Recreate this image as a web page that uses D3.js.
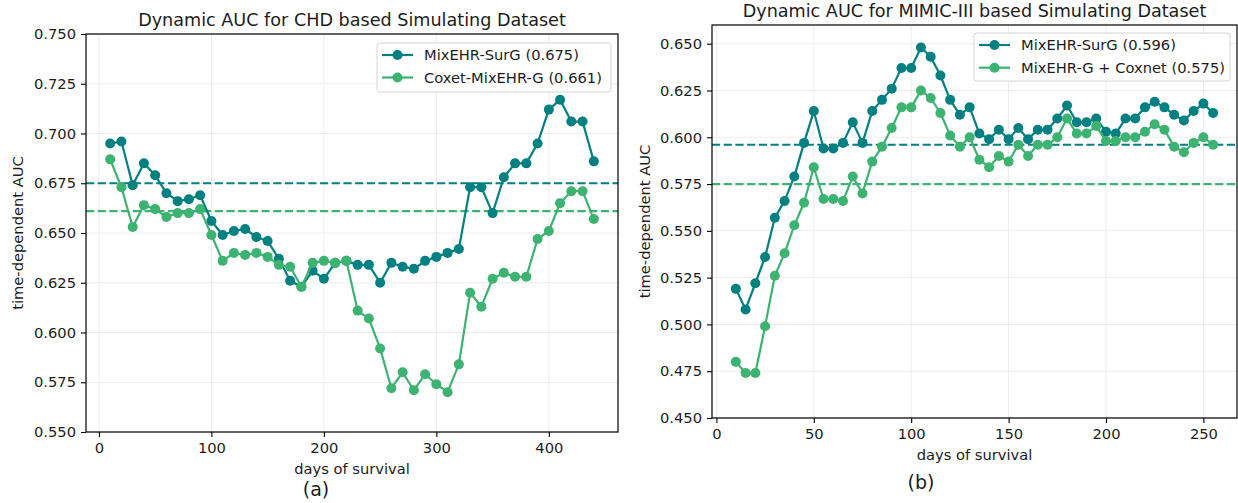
<!DOCTYPE html>
<html>
<head>
<meta charset="utf-8">
<script src="https://cdn.jsdelivr.net/npm/d3@7"></script>
<style>
  html, body { margin: 0; padding: 0; background: #fff; }
  svg { display: block; font-family: "DejaVu Sans", sans-serif; }
</style>
</head>
<body>
<svg id="fig" width="1238" height="503"></svg>
<script>
// ---- Panel (a): CHD based simulating dataset ----
const chdDays = [10, 20, 30, 40, 50, 60, 70, 80, 90, 100, 110, 120, 130, 140, 150, 160, 170, 180, 190, 200,
  210, 220, 230, 240, 250, 260, 270, 280, 290, 300, 310, 320, 330, 340, 350, 360, 370, 380, 390, 400,
  410, 420, 430, 440];
const chdSurG = [0.695, 0.696, 0.674, 0.685, 0.679, 0.670, 0.666, 0.667, 0.669, 0.656,
  0.649, 0.651, 0.652, 0.648, 0.646, 0.637, 0.626, 0.623, 0.631, 0.627,
  0.635, 0.636, 0.634, 0.634, 0.625, 0.635, 0.633, 0.632, 0.636, 0.638,
  0.640, 0.642, 0.673, 0.673, 0.660, 0.678, 0.685, 0.685, 0.695, 0.712,
  0.717, 0.706, 0.706, 0.686];
const chdCoxnet = [0.687, 0.673, 0.653, 0.664, 0.662, 0.658, 0.660, 0.660, 0.662, 0.649,
  0.636, 0.640, 0.639, 0.640, 0.638, 0.634, 0.633, 0.623, 0.635, 0.636,
  0.635, 0.636, 0.611, 0.607, 0.592, 0.572, 0.580, 0.571, 0.579, 0.574,
  0.570, 0.584, 0.620, 0.613, 0.627, 0.630, 0.628, 0.628, 0.647, 0.651,
  0.665, 0.671, 0.671, 0.657];
const chdMeans = [0.675, 0.661];
const chdNames = ["MixEHR-SurG", "Coxet-MixEHR-G"];
const chdXTicks = [0, 100, 200, 300, 400];
const chdYTicks = [0.550, 0.575, 0.600, 0.625, 0.650, 0.675, 0.700, 0.725, 0.750];

// ---- Panel (b): MIMIC-III based simulating dataset ----
const mimicDays = [10, 15, 20, 25, 30, 35, 40, 45, 50, 55, 60, 65, 70, 75, 80, 85, 90, 95, 100, 105,
  110, 115, 120, 125, 130, 135, 140, 145, 150, 155, 160, 165, 170, 175, 180, 185, 190, 195, 200, 205,
  210, 215, 220, 225, 230, 235, 240, 245, 250, 255];
const mimicSurG = [0.519, 0.508, 0.522, 0.536, 0.557, 0.566, 0.579, 0.597, 0.614, 0.594,
  0.594, 0.597, 0.608, 0.597, 0.614, 0.620, 0.626, 0.637, 0.637, 0.648,
  0.643, 0.633, 0.620, 0.612, 0.616, 0.602, 0.599, 0.604, 0.599, 0.605,
  0.599, 0.604, 0.604, 0.610, 0.617, 0.608, 0.608, 0.610, 0.603, 0.602,
  0.610, 0.610, 0.616, 0.619, 0.616, 0.612, 0.609, 0.614, 0.618, 0.613];
const mimicCoxnet = [0.480, 0.474, 0.474, 0.499, 0.526, 0.538, 0.553, 0.565, 0.584, 0.567,
  0.567, 0.566, 0.579, 0.570, 0.587, 0.595, 0.605, 0.616, 0.616, 0.625,
  0.621, 0.613, 0.601, 0.595, 0.600, 0.588, 0.584, 0.590, 0.587, 0.596,
  0.590, 0.596, 0.596, 0.600, 0.610, 0.602, 0.602, 0.606, 0.598, 0.598,
  0.600, 0.600, 0.603, 0.607, 0.604, 0.595, 0.592, 0.597, 0.600, 0.596];
const mimicMeans = [0.596, 0.575];
const mimicNames = ["MixEHR-SurG", "MixEHR-G + Coxnet"];
const mimicXTicks = [0, 50, 100, 150, 200, 250];
const mimicYTicks = [0.450, 0.475, 0.500, 0.525, 0.550, 0.575, 0.600, 0.625, 0.650];

const COLORS = ["#008080", "#3cb371"];
const TEXT = "#1c1c1c";
const FONT = 14.7;
const fmt = d3.format(".3f");

const svg = d3.select("#fig");

function drawPanel(p) {
  const x = d3.scaleLinear().domain(p.xDomain).range([p.left, p.right]);
  const y = d3.scaleLinear().domain(p.yDomain).range([p.bottom, p.top]);
  const g = svg.append("g");

  // grid
  g.append("g").selectAll("line").data(p.xTicks).join("line")
    .attr("x1", d => x(d)).attr("x2", d => x(d))
    .attr("y1", p.top).attr("y2", p.bottom)
    .attr("stroke", "#ececec").attr("stroke-width", 1);
  g.append("g").selectAll("line").data(p.yTicks).join("line")
    .attr("x1", p.left).attr("x2", p.right)
    .attr("y1", d => y(d)).attr("y2", d => y(d))
    .attr("stroke", "#ececec").attr("stroke-width", 1);

  // mean AUC reference lines
  p.means.forEach((m, i) => {
    g.append("line")
      .attr("x1", p.left).attr("x2", p.right)
      .attr("y1", y(m)).attr("y2", y(m))
      .attr("stroke", COLORS[i]).attr("stroke-width", 2.2)
      .attr("stroke-dasharray", "8.2,3.5");
  });

  // series: line + circle markers
  const line = d3.line().x(d => x(d[0])).y(d => y(d[1]));
  p.series.forEach((vals, i) => {
    const pts = p.days.map((d, k) => [d, vals[k]]);
    g.append("path").datum(pts)
      .attr("d", line).attr("fill", "none")
      .attr("stroke", COLORS[i]).attr("stroke-width", 2.2)
      .attr("stroke-linejoin", "round");
    g.append("g").selectAll("circle").data(pts).join("circle")
      .attr("cx", d => x(d[0])).attr("cy", d => y(d[1]))
      .attr("r", 5).attr("fill", COLORS[i]);
  });

  // frame
  g.append("rect")
    .attr("x", p.left).attr("y", p.top)
    .attr("width", p.right - p.left).attr("height", p.bottom - p.top)
    .attr("fill", "none").attr("stroke", "#000").attr("stroke-width", 1.2);

  // axes
  const xAxis = g.append("g").attr("transform", `translate(0,${p.bottom})`)
    .call(d3.axisBottom(x).tickValues(p.xTicks).tickFormat(d3.format("d"))
      .tickSize(5).tickPadding(6).tickSizeOuter(0));
  const yAxis = g.append("g").attr("transform", `translate(${p.left},0)`)
    .call(d3.axisLeft(y).tickValues(p.yTicks).tickFormat(fmt)
      .tickSize(5).tickPadding(5).tickSizeOuter(0));
  [xAxis, yAxis].forEach(a => {
    a.select(".domain").remove();
    a.selectAll("line").attr("stroke", "#000").attr("stroke-width", 1.1);
    a.selectAll("text").attr("fill", TEXT).style("font-size", FONT + "px")
      .style("font-family", '"DejaVu Sans", sans-serif');
  });

  const cx = (p.left + p.right) / 2;
  // title
  g.append("text").attr("x", cx).attr("y", p.top - 8.5)
    .attr("text-anchor", "middle").attr("fill", TEXT)
    .style("font-size", "17.6px").text(p.title);
  // x label
  g.append("text").attr("x", cx).attr("y", p.bottom + 42)
    .attr("text-anchor", "middle").attr("fill", TEXT)
    .style("font-size", FONT + "px").text("days of survival");
  // y label
  g.append("text")
    .attr("transform", `translate(${p.ylabelX},${(p.top + p.bottom) / 2}) rotate(-90)`)
    .attr("text-anchor", "middle").attr("fill", TEXT)
    .style("font-size", FONT + "px").text("time-dependent AUC");
  // panel tag
  g.append("text").attr("x", p.tagX).attr("y", p.tagY)
    .attr("text-anchor", "middle").attr("fill", TEXT)
    .style("font-size", "19px").text(p.tag);

  // legend
  const L = p.legend;
  g.append("rect").attr("x", L.x).attr("y", L.y).attr("width", L.w).attr("height", L.h)
    .attr("rx", 3).attr("fill", "#fff").attr("fill-opacity", 0.85)
    .attr("stroke", "#d4d4d4").attr("stroke-width", 1);
  p.names.forEach((name, i) => {
    const ry = L.rows[i];
    g.append("line").attr("x1", L.x + 5).attr("x2", L.x + 36)
      .attr("y1", ry).attr("y2", ry)
      .attr("stroke", COLORS[i]).attr("stroke-width", 2.2);
    g.append("circle").attr("cx", L.x + 20.5).attr("cy", ry).attr("r", 5)
      .attr("fill", COLORS[i]);
    g.append("text").attr("x", L.x + 47).attr("y", ry).attr("dy", "0.36em")
      .attr("fill", TEXT).style("font-size", FONT + "px")
      .text(`${name} (${fmt(p.means[i])})`);
  });
}

drawPanel({
  title: "Dynamic AUC for CHD based Simulating Dataset",
  tag: "(a)", tagX: 316, tagY: 496,
  left: 86, right: 618, top: 34, bottom: 432,
  xDomain: [-11.5, 461.5], yDomain: [0.55, 0.75],
  xTicks: chdXTicks, yTicks: chdYTicks,
  days: chdDays, series: [chdSurG, chdCoxnet], means: chdMeans, names: chdNames,
  ylabelX: 23,
  legend: { x: 377, y: 43, w: 234, h: 49, rows: [55, 77.5] }
});

drawPanel({
  title: "Dynamic AUC for MIMIC-III based Simulating Dataset",
  tag: "(b)", tagX: 921, tagY: 489,
  left: 712, right: 1237, top: 25, bottom: 418,
  xDomain: [-2.25, 267.25], yDomain: [0.45, 0.66],
  xTicks: mimicXTicks, yTicks: mimicYTicks,
  days: mimicDays, series: [mimicSurG, mimicCoxnet], means: mimicMeans, names: mimicNames,
  ylabelX: 650,
  legend: { x: 974, y: 33, w: 256, h: 48, rows: [45, 67.7] }
});
</script>
</body>
</html>
